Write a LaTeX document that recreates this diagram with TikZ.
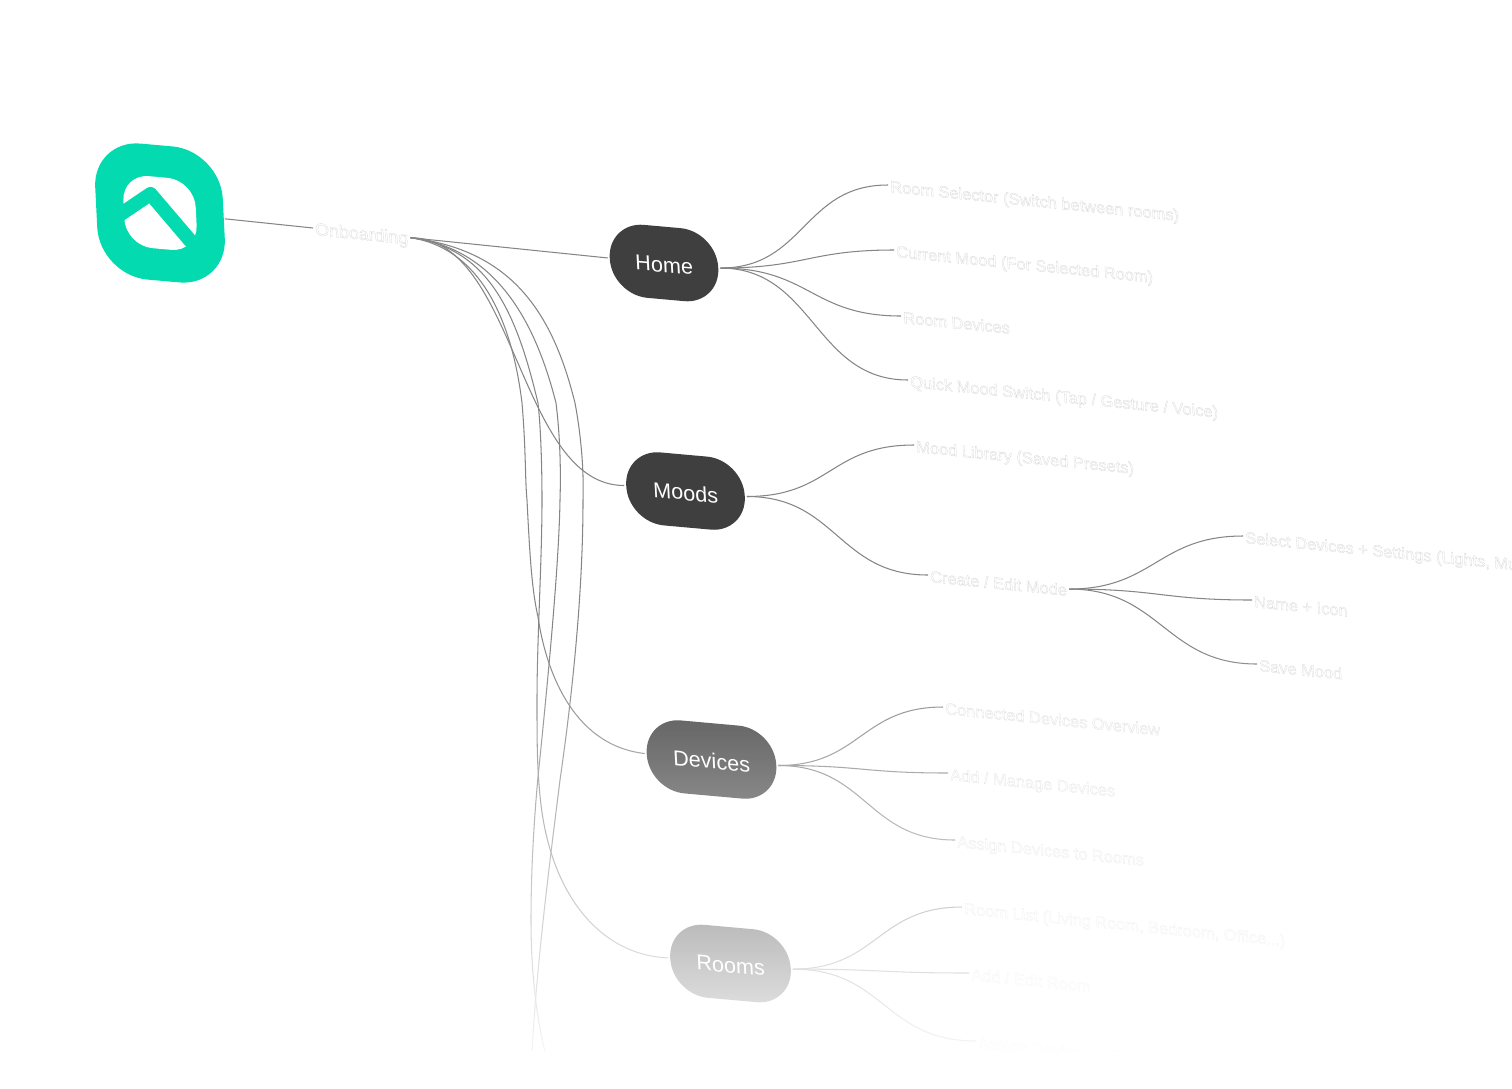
\documentclass[tikz,border=0pt]{standalone}
\usepackage{fontspec}
\setmainfont{Liberation Sans}
\usetikzlibrary{fadings,positioning}
\definecolor{mint}{HTML}{04DAAF}
\definecolor{graphite}{HTML}{3F3F3F}
\definecolor{wire}{HTML}{858585}
\tikzfading[name=veil,top color=transparent!100,bottom color=transparent!0]
\tikzset{
  tilt/.style={xslant=-0.05,yslant=-0.09,transform shape},
  pill/.style={tilt,fill=graphite,text=white,rounded corners=36pt,minimum height=73pt,outer sep=2pt,text height=18.5pt,text depth=0pt,font=\fontsize{21.5}{26}\selectfont},
  ghost/.style={xslant=-0.05,yslant=-0.1,transform shape,anchor=west,inner sep=2pt,text height=15pt,text depth=1pt,font=\fontsize{16.3}{20}\selectfont,
    execute at begin node={\special{pdf:code q 1 Tr 0.3 w 0.84 G}},
    execute at end node={\special{pdf:code Q}}},
  link/.style={draw=wire,line width=1.05pt},
}
\begin{document}
\begin{tikzpicture}[x=1pt,y=1pt]
  \useasboundingbox (0,0) rectangle (1512,-1088);
  % logo
  \node[tilt,fill=mint,rounded corners=48pt,minimum width=127pt,minimum height=136pt,outer sep=1pt] (logo) at (160,-213) {};
  \begin{scope}[shift={(160,-213)},xslant=-0.05,yslant=-0.09]
    \fill[white,rounded corners=27pt] (-36,-36) rectangle (36,36);
  \end{scope}
  \draw[mint,line width=14pt,line join=round] (115,-218) -- (150.5,-194) -- (205,-258);
  % main nodes
  \node[pill,minimum width=108pt] (home) at (664,-263) {Home};
  \node[pill,minimum width=118pt] (moods) at (685.5,-491) {Moods};
  \node[pill,minimum width=129pt] (devices) at (711.5,-759.5) {Devices};
  \node[pill,minimum width=120pt] (rooms) at (730.5,-963.5) {Rooms};
  % text nodes
  \node[ghost,font=\fontsize{17.7}{20}\selectfont] (onboard) at (313,-228) {Onboarding};
  \node[ghost] (selector) at (888,-185) {Room Selector (Switch between rooms)};
  \node[ghost] (current) at (894,-250) {Current Mood (For Selected Room)};
  \node[ghost] (roomdev) at (901,-316) {Room Devices};
  \node[ghost] (quick) at (908,-380) {Quick Mood Switch (Tap / Gesture / Voice)};
  \node[ghost] (library) at (914,-445) {Mood Library (Saved Presets)};
  \node[ghost] (create) at (928,-575) {Create / Edit Mode};
  \node[ghost] (select) at (1243,-536) {Select Devices + Settings (Lights, Music)};
  \node[ghost] (nameicon) at (1252,-600) {Name + Icon};
  \node[ghost] (save) at (1257,-664) {Save Mood};
  \node[ghost] (connected) at (943,-707) {Connected Devices Overview};
  \node[ghost] (manage) at (948,-773) {Add / Manage Devices};
  \node[ghost] (assign) at (955,-840) {Assign Devices to Rooms};
  \node[ghost] (roomlist) at (962,-907) {Room List (Living Room, Bedroom, Office...)};
  \node[ghost] (addedit) at (969,-973) {Add / Edit Room};
  \node[ghost] (assignroom) at (976,-1041) {Assign Devices to Room};
  \coordinate (offa) at (532,-1052);
  \coordinate (offb) at (545,-1052);
  % connectors
  \draw[link] (logo.east) -- (onboard.west);
  \draw[link] (onboard.east) -- (home.west);
  \foreach \src/\dst/\bend in {home/selector/85,home/current/85,home/roomdev/90,home/quick/94,
      moods/library/84,moods/create/90,create/select/85,create/nameicon/90,create/save/92,
      devices/connected/82,devices/manage/85,devices/assign/88,
      rooms/roomlist/85,rooms/addedit/88,rooms/assignroom/92,onboard/moods/106}
    \draw[link] (\src.east) .. controls +(\bend,0) and +(-\bend,0) .. (\dst.west);
  % long curves to the lower part
  \draw[link] (onboard.east) .. controls (480,-248) and (512,-320) .. (522,-403) .. controls (526,-450) and (525,-480) .. (527,-500)
    .. controls (530,-560) and (532,-590) .. (538,-617) .. controls (545,-665) and (570,-745) .. (devices.west);
  \draw[link] (onboard.east) .. controls (490,-248) and (517,-315) .. (538,-403) .. controls (541,-430) and (542,-470) .. (542,-500)
    .. controls (542,-560) and (537,-640) .. (537,-700) .. controls (537,-745) and (537,-770) .. (541,-805)
    .. controls (552,-895) and (600,-955) .. (rooms.west);
  \draw[link] (onboard.east) .. controls (495,-248) and (535,-320) .. (556,-403) .. controls (560,-435) and (561,-470) .. (560,-500)
    .. controls (559,-560) and (550,-660) .. (538,-777) .. controls (534,-820) and (531,-870) .. (531,-920)
    .. controls (531,-970) and (536,-1015) .. (offb);
  \draw[link] (onboard.east) .. controls (510,-250) and (552,-310) .. (575,-403) .. controls (581,-435) and (584,-470) .. (583,-500)
    .. controls (583,-590) and (573,-690) .. (560,-780) .. controls (550,-860) and (537,-960) .. (offa);
  % fade to white
  \fill[white,path fading=veil] (0,-625) rectangle (1512,-1085);
  \fill[white] (0,-1051) rectangle (1512,-1088);
\end{tikzpicture}
\end{document}
